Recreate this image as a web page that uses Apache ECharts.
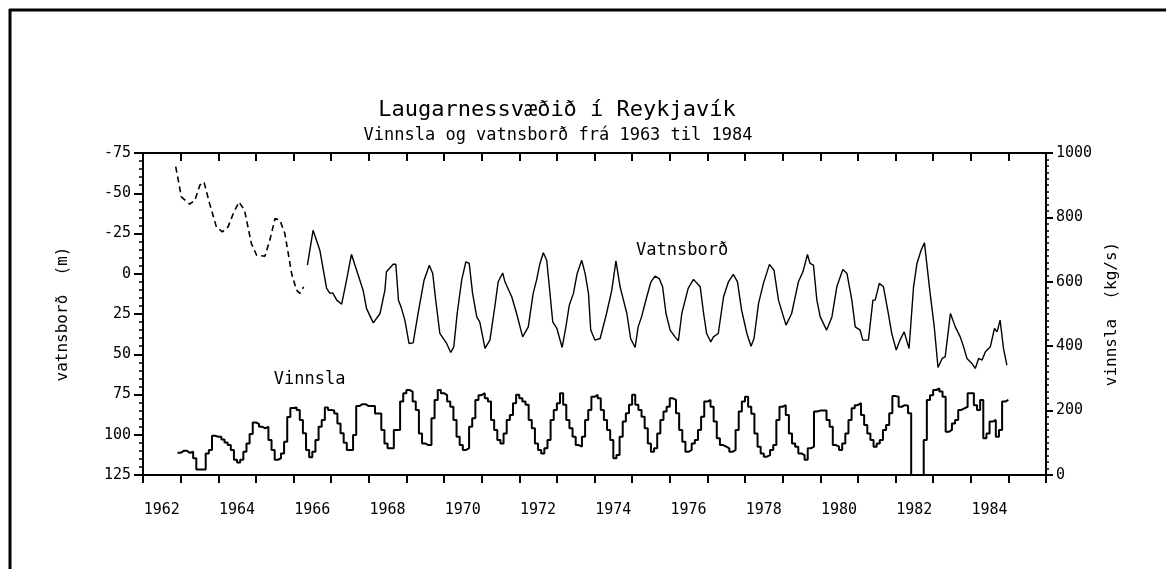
<!DOCTYPE html>
<html>
<head>
<meta charset="utf-8">
<script src="https://cdn.jsdelivr.net/npm/echarts@6/dist/echarts.min.js"></script>
<style>
html, body { margin: 0; padding: 0; background: #fff; }
#chart { width: 1166px; height: 569px; }
</style>
</head>
<body>
<div id="chart"></div>
<script>
var FONT = "DejaVu Sans Mono";

// x axis labels (one band per year)
var years = [];
for (var y = 1962; y <= 1985; y++) years.push(String(y));

// vatnsbord (m), estimated: [year, depth]
var levelEstimated = [
	[1962.87,-66.5],[1963.02,-47.7],[1963.24,-43.2],[1963.38,-45.7],[1963.51,-55],[1963.62,-57],
	[1963.77,-43.6],[1963.95,-29.1],[1964.11,-26],[1964.26,-29.1],[1964.4,-37.4],[1964.55,-44.6],
	[1964.7,-39.4],[1964.88,-18.8],[1965.02,-11.5],[1965.24,-10.9],[1965.37,-20.8],[1965.51,-34.3],
	[1965.64,-33.2],[1965.77,-25],[1965.95,-0.2],[1966.08,10.2],[1966.17,12.2],[1966.27,8.1]
];

// vatnsbord (m), measured: [year, depth]
var levelMeasured = [
	[1966.37,-5.3],[1966.52,-27],[1966.7,-14.6],[1966.88,9.1],[1966.97,12.2],[1967.04,11.9],[1967.15,16.4],
	[1967.28,18.9],[1967.41,4],[1967.54,-12.1],[1967.85,10.2],[1967.94,21.5],[1968.12,30.5],[1968.3,24.7],
	[1968.43,10.2],[1968.47,-1.2],[1968.65,-5.9],[1968.72,-5.9],[1968.79,16.4],[1968.87,21.5],[1968.96,28.8],
	[1969.07,43.3],[1969.18,42.9],[1969.31,24.7],[1969.47,4],[1969.61,-5.3],[1969.7,-0.2],[1969.78,16.4],
	[1969.89,37.1],[1970.07,43.3],[1970.18,48.9],[1970.26,45.4],[1970.35,24.7],[1970.47,4],[1970.58,-7.4],
	[1970.67,-6.4],[1970.76,12.2],[1970.87,26.8],[1970.95,29.9],[1971.09,46.4],[1971.22,41.2],[1971.35,20.6],
	[1971.44,5],[1971.56,-0.5],[1971.62,5],[1971.8,14.3],[1971.93,24.7],[1972.09,39.2],[1972.24,33],
	[1972.37,12.2],[1972.46,4],[1972.55,-6.4],[1972.64,-13],[1972.73,-8.4],[1972.8,8.1],[1972.89,29.9],
	[1973,34],[1973.14,45.8],[1973.24,33],[1973.33,19.5],[1973.44,12.2],[1973.54,-0.2],[1973.66,-8.4],
	[1973.75,-0.2],[1973.84,12.2],[1973.9,35],[1974.01,41.2],[1974.15,40.2],[1974.32,24.7],[1974.46,10.2],
	[1974.57,-8],[1974.68,8.1],[1974.77,16.4],[1974.86,24.7],[1974.96,40.2],[1975.08,45.8],[1975.16,33],
	[1975.25,26.8],[1975.39,14.3],[1975.5,5],[1975.61,1.5],[1975.72,3],[1975.81,8.1],[1975.9,24.7],
	[1976.01,35],[1976.14,39.2],[1976.23,41.6],[1976.32,24.7],[1976.41,16.4],[1976.49,9.1],[1976.63,3.5],
	[1976.81,8.1],[1976.9,24.7],[1976.98,37.1],[1977.09,42.3],[1977.16,39.2],[1977.29,37.1],[1977.43,14.3],
	[1977.56,5],[1977.69,0.4],[1977.8,5],[1977.91,22.6],[1978.05,37.1],[1978.16,45],[1978.24,40.2],
	[1978.36,18.4],[1978.49,6],[1978.65,-5.8],[1978.77,-2.2],[1978.89,16.4],[1979.09,31.9],[1979.24,24.7],
	[1979.42,5],[1979.54,-1.2],[1979.58,-1.2],[1979.66,-12],[1979.73,-6.4],[1979.82,-5.3],[1979.91,16.4],
	[1980,26.8],[1980.17,35],[1980.31,26.8],[1980.44,8.1],[1980.6,-2.6],[1980.71,-0.2],[1980.84,16.4],
	[1980.93,33],[1981.06,35],[1981.13,41.2],[1981.28,41.2],[1981.4,16.4],[1981.46,16.4],[1981.57,6],
	[1981.68,8.1],[1981.81,24.7],[1981.9,37.1],[1982.02,47.4],[1982.12,41.2],[1982.23,36.1],[1982.28,36.1],
	[1982.36,46.4],[1982.48,8.1],[1982.57,-6.4],[1982.68,-14.6],[1982.77,-19.2],[1982.91,10.2],[1983.03,33],
	[1983.13,58.2],[1983.24,52.6],[1983.32,51.6],[1983.46,24.7],[1983.59,33],[1983.72,39.2],[1983.81,45.4],
	[1983.9,52.6],[1984.03,55.7],[1984.12,58.8],[1984.21,52.6],[1984.3,53.6],[1984.39,48.5],[1984.52,45.4],
	[1984.63,34],[1984.7,36.1],[1984.78,28.8],[1984.87,46.4],[1984.96,56.7]
];

// vinnsla (kg/s), monthly from Dec 1962
var vinnslaStart = 1962 + 11 / 12;
var vinnsla = [
	69,
	75, 75, 69, 72, 52, 17, 17, 17, 67, 78, 122, 119,        // 1963
	119, 110, 101, 93, 78, 47, 39, 47, 72, 98, 127, 163,     // 1964
	159, 150, 145, 150, 109, 78, 47, 52, 67, 103, 180, 208,  // 1965
	210, 202, 171, 130, 78, 55, 72, 109, 150, 171, 210, 202, // 1966
	200, 191, 160, 130, 100, 78, 78, 124, 214, 220, 220, 214,// 1967
	214, 214, 191, 191, 140, 98, 83, 83, 140, 140, 228, 254, // 1968
	264, 259, 228, 202, 129, 98, 93, 93, 176, 233, 264, 254, // 1969
	248, 228, 212, 171, 119, 93, 78, 83, 150, 176, 233, 248, // 1970
	254, 238, 228, 171, 140, 109, 98, 129, 171, 186, 223, 249,// 1971
	238, 228, 218, 171, 145, 98, 78, 67, 83, 109, 171, 202,  // 1972
	223, 254, 218, 171, 145, 119, 93, 88, 119, 171, 202, 243,// 1973
	249, 238, 202, 171, 140, 109, 52, 62, 119, 166, 192, 218,// 1974
	249, 218, 202, 181, 145, 98, 72, 83, 129, 171, 197, 212, // 1975
	238, 233, 192, 140, 103, 72, 78, 98, 109, 140, 181, 228, // 1976
	233, 212, 166, 114, 93, 88, 83, 72, 78, 140, 197, 228,   // 1977
	243, 212, 190, 129, 88, 67, 57, 62, 78, 93, 171, 212,    // 1978
	217, 186, 129, 98, 88, 67, 62, 47, 83, 88, 197, 200,     // 1979
	200, 200, 171, 150, 93, 88, 78, 98, 129, 171, 207, 217,  // 1980
	223, 186, 155, 129, 109, 88, 98, 109, 140, 155, 192, 245,// 1981
	243, 212, 217, 215, 192, 0, 0, 0, 0, 109, 233, 248,      // 1982
	264, 269, 259, 243, 134, 140, 160, 171, 202, 207, 212, 254,// 1983
	254, 217, 202, 233, 114, 129, 166, 171, 119, 140, 228, 233 // 1984
];

var vinnslaData = [];
for (var i = 0; i < vinnsla.length; i++) vinnslaData.push([vinnslaStart + i / 12, vinnsla[i]]);
vinnslaData.push([vinnslaStart + vinnsla.length / 12, vinnsla[vinnsla.length - 1]]);

var myChart = echarts.init(document.getElementById("chart"));
myChart.setOption({
	animation: false,
	backgroundColor: "#fff",
	title: [
		{ text: "Laugarnessvæðið í Reykjavík", left: 552, top: 94, textAlign: "center",
		  textStyle: { fontFamily: FONT, fontSize: 22, fontWeight: "normal", color: "#000" } },
		{ text: "Vinnsla og vatnsborð frá 1963 til 1984", left: 553, top: 122, textAlign: "center",
		  textStyle: { fontFamily: FONT, fontSize: 17, fontWeight: "normal", color: "#000" } }
	],
	grid: { left: 143, right: 120, top: 153, bottom: 94 },
	xAxis: [
		{
			type: "value", min: 1962, max: 1986, interval: 1, position: "top",
			axisLine: { onZero: false, lineStyle: { color: "#000", width: 2 } },
			axisTick: { inside: true, length: 8, lineStyle: { color: "#000", width: 2 } },
			axisLabel: { show: false }, splitLine: { show: false }
		},
		{
			type: "category", data: years, position: "bottom", boundaryGap: true,
			axisLine: { onZero: false, lineStyle: { color: "#000", width: 2 } },
			axisTick: { show: true, interval: 0, length: 8, lineStyle: { color: "#000", width: 2 } },
			axisLabel: { interval: 1, margin: 28, fontFamily: FONT, fontSize: 15, color: "#000" },
			splitLine: { show: false }
		}
	],
	yAxis: [
		{
			type: "value", min: -75, max: 125, interval: 25, inverse: true, position: "left",
			name: "vatnsborð  (m)", nameLocation: "middle", nameGap: 72, nameRotate: 90,
			nameTextStyle: { fontFamily: FONT, fontSize: 16, color: "#000" },
			axisLine: { show: true, onZero: false, lineStyle: { color: "#000", width: 2 } },
			axisTick: { show: true, length: 9, lineStyle: { color: "#000", width: 2 } },
			minorTick: { show: true, splitNumber: 5, length: 4, lineStyle: { color: "#000", width: 1.5 } },
			axisLabel: { margin: 12, fontFamily: FONT, fontSize: 15, color: "#000" },
			splitLine: { show: false }
		},
		{
			type: "value", min: 0, max: 1000, interval: 200, position: "right",
			name: "vinnsla  (kg/s)", nameLocation: "middle", nameGap: 58, nameRotate: 90,
			nameTextStyle: { fontFamily: FONT, fontSize: 16, color: "#000" },
			axisLine: { show: true, onZero: false, lineStyle: { color: "#000", width: 2 } },
			axisTick: { show: true, length: 7, lineStyle: { color: "#000", width: 2 } },
			minorTick: { show: true, splitNumber: 10, length: 3, lineStyle: { color: "#000", width: 1.5 } },
			axisLabel: { margin: 10, fontFamily: FONT, fontSize: 15, color: "#000",
				formatter: function(v){ return String(v); } },
			splitLine: { show: false }
		}
	],
	series: [
		{
			name: "estimated", type: "line", xAxisIndex: 0, yAxisIndex: 0, data: levelEstimated,
			showSymbol: false, lineStyle: { color: "#000", width: 1.6, type: [6, 4] }
		},
		{
			name: "Vatnsborð", type: "line", xAxisIndex: 0, yAxisIndex: 0, data: levelMeasured,
			showSymbol: false, lineStyle: { color: "#000", width: 1.4 },
			markPoint: {
				symbol: "circle", symbolSize: 1, itemStyle: { color: "rgba(0,0,0,0)" },
				label: { show: true, position: "inside", formatter: "Vatnsborð", fontFamily: FONT, fontSize: 17, color: "#000" },
				data: [{ coord: [1976.33, -14.6] }]
			}
		},
		{
			name: "Vinnsla", type: "line", step: "end", xAxisIndex: 0, yAxisIndex: 1, data: vinnslaData,
			showSymbol: false, lineStyle: { color: "#000", width: 2 },
			markPoint: {
				symbol: "circle", symbolSize: 1, itemStyle: { color: "rgba(0,0,0,0)" },
				label: { show: true, position: "inside", formatter: "Vinnsla", fontFamily: FONT, fontSize: 17, color: "#000" },
				data: [{ coord: [1966.43, 295] }]
			}
		}
	],
	graphic: [
		{ type: "line", shape: { x1: 9, y1: 10, x2: 1166, y2: 10 }, style: { stroke: "#000", lineWidth: 3 } },
		{ type: "line", shape: { x1: 10, y1: 9, x2: 10, y2: 569 }, style: { stroke: "#000", lineWidth: 3 } }
	]
});
</script>
</body>
</html>
